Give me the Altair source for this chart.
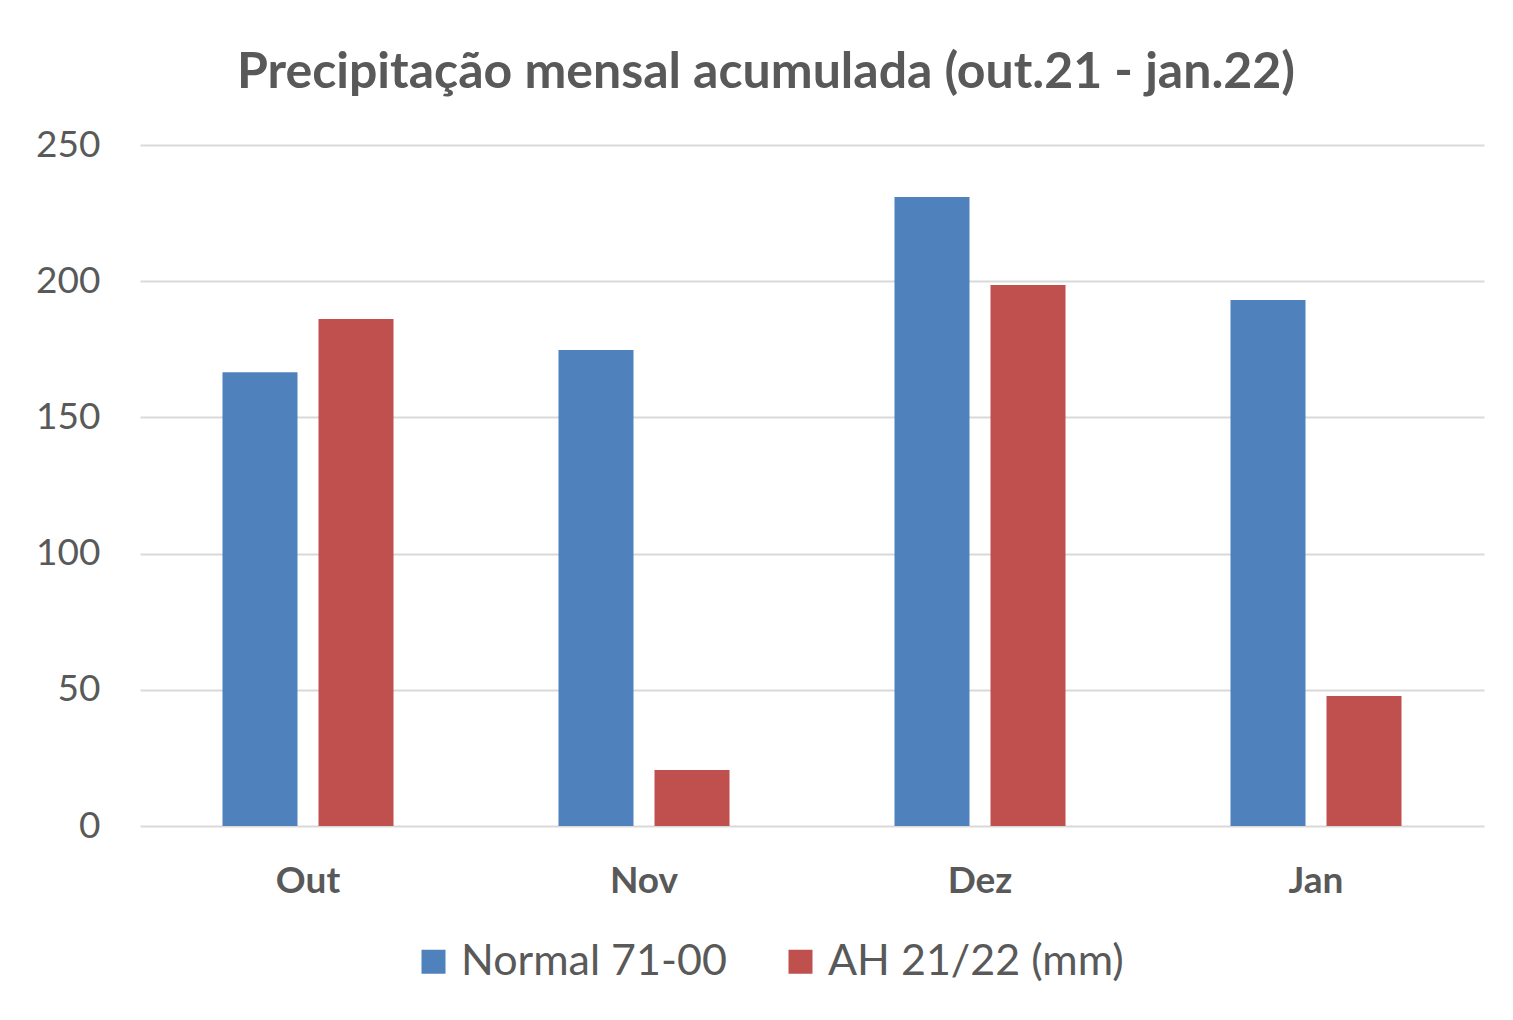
import altair as alt
import pandas as pd

months = ["Out", "Nov", "Dez", "Jan"]
series = ["Normal 71-00", "AH 21/22 (mm)"]
normal = [166.6, 174.7, 230.9, 193.1]
ah = [186.1, 20.6, 198.6, 47.7]

rows = []
for m, n, a in zip(months, normal, ah):
    rows.append({"month": m, "series": series[0], "value": n})
    rows.append({"month": m, "series": series[1], "value": a})
df = pd.DataFrame(rows)

FONT = "Lato"
GRAY = "#595959"

chart = alt.Chart(df).mark_bar().encode(
    x=alt.X("month:N", sort=months, title=None,
            scale=alt.Scale(paddingInner=0, paddingOuter=0),
            axis=alt.Axis(labelAngle=0, labelFont=FONT, labelFontSize=37, labelFontWeight="bold",
                          labelColor=GRAY, ticks=False, domain=False, labelPadding=37)),
    xOffset=alt.XOffset("series:N", sort=series,
                        scale=alt.Scale(paddingInner=0.219, paddingOuter=0.859)),
    y=alt.Y("value:Q", title=None,
            scale=alt.Scale(domain=[0, 250], nice=False),
            axis=alt.Axis(values=[0, 50, 100, 150, 200, 250], labelFont=FONT, labelFontSize=37,
                          labelColor=GRAY, ticks=False, domain=False, labelPadding=40,
                          gridColor="#d9d9d9", gridWidth=2)),
    color=alt.Color("series:N", sort=series,
                    scale=alt.Scale(domain=series, range=["#4f81bd", "#c0504d"]),
                    legend=alt.Legend(title=None, orient="none", legendX=272, legendY=795,
                                      direction="horizontal", symbolType="square", symbolSize=576,
                                      symbolStrokeWidth=0, labelFont=FONT, labelFontSize=43,
                                      labelColor=GRAY, columnPadding=52, labelOffset=6,
                                      labelLimit=400)),
).properties(
    width=1344,
    height=681,
    title=alt.TitleParams("Precipitação mensal acumulada (out.21 - jan.22)", font=FONT,
                          fontSize=50, fontWeight="bold", color=GRAY, anchor="middle",
                          dx=-46, offset=28),
    autosize=alt.AutoSizeParams(type="none"),
    padding={"left": 132, "top": 137, "right": 20, "bottom": 180},
).configure_view(stroke=None)

chart.save("out.html", embed_options={"renderer": "svg", "actions": False})
